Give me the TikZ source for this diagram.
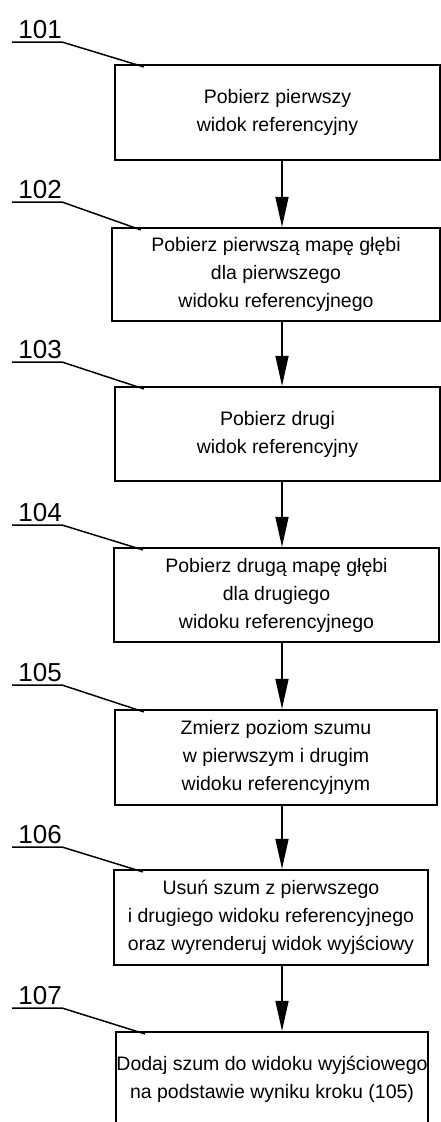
\documentclass[tikz,border=0pt]{standalone}
\usepackage{fontspec}
\setmainfont{Liberation Sans}
\usetikzlibrary{arrows.meta}

\begin{document}
\begin{tikzpicture}[x=1pt, y=-1pt,
    stepbox/.style={draw, line width=2.2pt, align=center, inner sep=0pt,
        font=\fontsize{19.5}{28}\selectfont},
    steplabel/.style={anchor=south east, inner xsep=0pt, inner ysep=3pt,
        font=\fontsize{26}{30}\selectfont},
    flow/.style={line width=1.5pt, -{Triangle[length=30pt,width=13pt]}},
    leader/.style={line width=1.5pt}]
    \useasboundingbox (0,0) rectangle (441,1122);
    \clip (0,0) rectangle (441,1122);

    % steps
    \node[stepbox, minimum width=325pt, minimum height=95pt] (s101) at (277.5,112.5)
        {Pobierz pierwszy\\widok referencyjny};
    \node[stepbox, minimum width=328pt, minimum height=93pt] (s102) at (276,274.5)
        {Pobierz pierwszą mapę głębi\\dla pierwszego\\widoku referencyjnego};
    \node[stepbox, minimum width=325pt, minimum height=94pt] (s103) at (277.5,434)
        {Pobierz drugi\\widok referencyjny};
    \node[stepbox, minimum width=325pt, minimum height=94pt] (s104) at (276.5,595)
        {Pobierz drugą mapę głębi\\dla drugiego\\widoku referencyjnego};
    \node[stepbox, minimum width=322pt, minimum height=95pt] (s105) at (276,757.5)
        {Zmierz poziom szumu\\w pierwszym i drugim\\widoku referencyjnym};
    \node[stepbox, minimum width=314pt, minimum height=95pt] (s106) at (271,917.5)
        {Usuń szum z pierwszego\\i drugiego widoku referencyjnego\\oraz wyrenderuj widok wyjściowy};
    \node[stepbox, minimum width=312pt, minimum height=95pt] (s107) at (272,1079.5)
        {Dodaj szum do widoku wyjściowego\\na podstawie wyniku kroku (105)};

    % arrows between steps
    \coordinate (spine) at (282,0);
    \foreach \a/\b in {101/102,102/103,103/104,104/105,105/106,106/107}
        \draw[flow] (spine |- s\a.south) -- (spine |- s\b.north);

    % reference numbers
    \foreach \n/\y in {101/42,102/202,103/362,104/525,105/685,106/847,107/1008} {
        \node[steplabel] (l\n) at (62,\y) {\n};
        \draw[leader] ([xshift=-6pt]l\n.south west) -- (l\n.south east)
            -- ([shift={(30,3)}]s\n.north west);
    }
\end{tikzpicture}
\end{document}
